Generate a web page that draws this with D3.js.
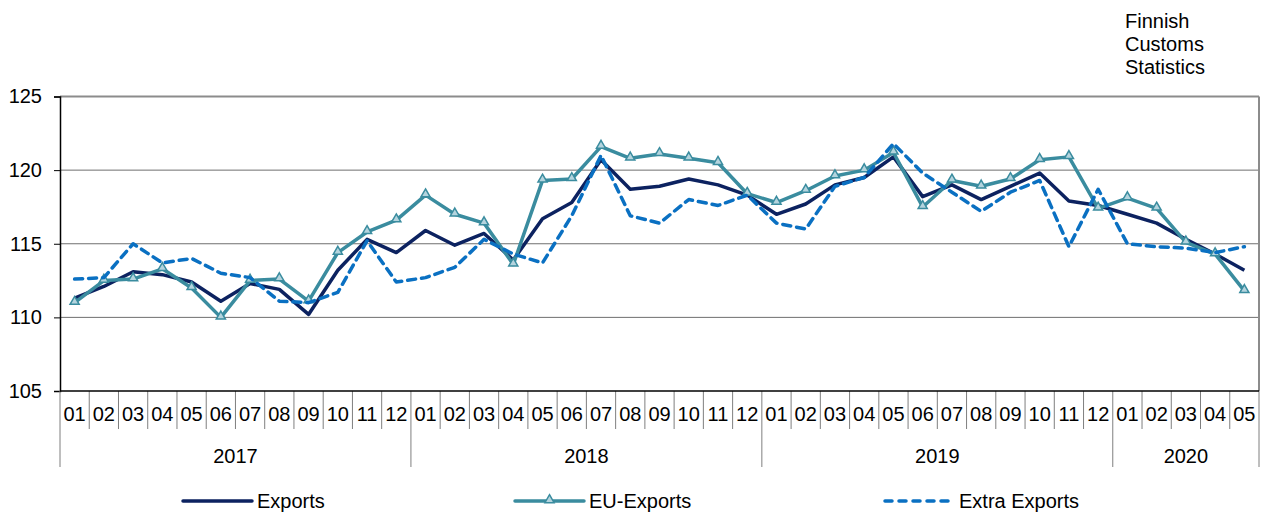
<!DOCTYPE html>
<html>
<head>
<meta charset="utf-8">
<script src="https://cdn.jsdelivr.net/npm/d3@7"></script>
<style>
  body { margin: 0; background: #fff; }
  text { font-family: Arial, "Liberation Sans", sans-serif; fill: #000; }
</style>
</head>
<body>
<svg id="chart" width="1262" height="513"></svg>
<script>
const svg = d3.select("#chart");

// 2017-01 .. 2020-05
const years = ["2017", "2018", "2019", "2020"];
const monthsPerYear = [12, 12, 12, 5];
const months = [];
years.forEach((y, i) => {
  for (let m = 1; m <= monthsPerYear[i]; m++) months.push(`${y}-${String(m).padStart(2, "0")}`);
});

const totalExports = [
  111.3, 112.1, 113.1, 112.9, 112.4, 111.1, 112.3, 111.9, 110.2, 113.2, 115.3, 114.4,
  115.9, 114.9, 115.7, 113.9, 116.7, 117.8, 120.7, 118.7, 118.9, 119.4, 119.0, 118.3,
  117.0, 117.7, 119.0, 119.5, 120.9, 118.2, 119.0, 118.0, 118.9, 119.8, 117.9, 117.6,
  117.0, 116.4, 115.3, 114.3, 113.2
];
const euExports = [
  111.0, 112.5, 112.6, 113.3, 112.0, 110.0, 112.5, 112.6, 111.1, 114.4, 115.8, 116.6,
  118.3, 117.0, 116.4, 113.6, 119.3, 119.4, 121.6, 120.8, 121.1, 120.8, 120.5, 118.4,
  117.8, 118.6, 119.6, 120.0, 121.2, 117.5, 119.3, 118.9, 119.4, 120.7, 120.9, 117.4,
  118.1, 117.4, 115.1, 114.3, 111.8
];
const extraExports = [
  112.6, 112.7, 115.0, 113.7, 114.0, 113.0, 112.7, 111.1, 111.0, 111.7, 115.2, 112.4,
  112.7, 113.4, 115.3, 114.3, 113.7, 116.9, 121.0, 116.9, 116.4, 118.0, 117.6, 118.3,
  116.4, 116.0, 118.9, 119.5, 121.8, 119.8, 118.5, 117.2, 118.5, 119.3, 114.8, 118.7,
  115.0, 114.8, 114.7, 114.4, 114.8
];
const yTicks = [105, 110, 115, 120, 125];

const series = [
  { name: "Exports", values: totalExports, color: "#0c2260", dash: null, marker: false },
  { name: "EU-Exports", values: euExports, color: "#3a8c9f", dash: null, marker: true },
  { name: "Extra Exports", values: extraExports, color: "#0a70c2", dash: "8,6", marker: false }
];

const plotLeft = 60, plotRight = 1259, plotTop = 96.5, plotBottom = 391;
const fs = "20px";

const x = d3.scaleBand().domain(months).range([plotLeft, plotRight]);
const y = d3.scaleLinear().domain([105, 125]).range([plotBottom, plotTop]);

// gridlines
svg.append("g")
  .selectAll("line")
  .data(yTicks.slice(1))
  .join("line")
  .attr("x1", plotLeft).attr("x2", plotRight)
  .attr("y1", d => y(d)).attr("y2", d => y(d))
  .attr("stroke", d => d === 125 ? "#8c8c8c" : "#6f6f6f")
  .attr("stroke-width", d => d === 125 ? 2 : 1);

// right border
svg.append("line")
  .attr("x1", plotRight).attr("x2", plotRight).attr("y1", plotTop).attr("y2", plotBottom)
  .attr("stroke", "#8c8c8c").attr("stroke-width", 2);

// y axis
const yAxis = svg.append("g").attr("transform", `translate(${plotLeft},0)`)
  .call(d3.axisLeft(y).tickValues(yTicks).tickSize(6).tickPadding(12));
yAxis.select(".domain").attr("stroke", "#000").attr("stroke-width", 1.5);
yAxis.selectAll(".tick line").attr("stroke", "#000");
yAxis.selectAll(".tick text").style("font-size", fs).attr("fill", "#000")
  .style("font-family", "Arial, 'Liberation Sans', sans-serif");

// x axis: month labels and separators
const xg = svg.append("g");
xg.selectAll("line.sep")
  .data(months)
  .join("line")
  .attr("class", "sep")
  .attr("x1", d => x(d)).attr("x2", d => x(d))
  .attr("y1", plotBottom)
  .attr("y2", d => d.endsWith("-01") ? 467 : 429)
  .attr("stroke", "#7f7f7f").attr("stroke-width", 1);
xg.append("line")
  .attr("x1", plotRight).attr("x2", plotRight).attr("y1", plotBottom).attr("y2", 467)
  .attr("stroke", "#7f7f7f");
xg.selectAll("text.month")
  .data(months)
  .join("text")
  .attr("class", "month")
  .attr("x", d => x(d) + x.bandwidth() / 2)
  .attr("y", 421)
  .attr("text-anchor", "middle")
  .style("font-size", fs)
  .text(d => d.slice(5));

let start = 0;
years.forEach((yr, i) => {
  const first = months[start], last = months[start + monthsPerYear[i] - 1];
  const cx = (x(first) + x(last) + x.bandwidth()) / 2;
  xg.append("text")
    .attr("x", cx).attr("y", 463)
    .attr("text-anchor", "middle")
    .style("font-size", fs)
    .text(yr);
  start += monthsPerYear[i];
});

// bottom axis line
svg.append("line")
  .attr("x1", plotLeft).attr("x2", plotRight).attr("y1", plotBottom).attr("y2", plotBottom)
  .attr("stroke", "#000").attr("stroke-width", 1.5);

// lines
const line = d3.line()
  .x((d, i) => x(months[i]) + x.bandwidth() / 2)
  .y(d => y(d));

const triangle = d3.symbol().type(d3.symbolTriangle).size(36);

series.forEach(s => {
  svg.append("path")
    .datum(s.values)
    .attr("d", line)
    .attr("fill", "none")
    .attr("stroke", s.color)
    .attr("stroke-width", 3.5)
    .attr("stroke-linejoin", "round")
    .attr("stroke-linecap", s.dash ? "round" : "butt")
    .attr("stroke-dasharray", s.dash);
  if (s.marker) {
    svg.append("g")
      .selectAll("path")
      .data(s.values)
      .join("path")
      .attr("d", triangle)
      .attr("transform", (d, i) => `translate(${x(months[i]) + x.bandwidth() / 2},${y(d) - 1})`)
      .attr("fill", "#b4d4de")
      .attr("stroke", s.color)
      .attr("stroke-width", 1.5);
  }
});

// legend
const legendPos = [183, 515, 885];
series.forEach((s, i) => {
  const g = svg.append("g").attr("transform", `translate(${legendPos[i]},501)`);
  g.append("line")
    .attr("x1", 0).attr("x2", 69)
    .attr("stroke", s.color).attr("stroke-width", 3.5)
    .attr("stroke-linecap", "round")
    .attr("stroke-dasharray", s.dash ? "7,7" : null);
  if (s.marker) {
    g.append("path").attr("d", triangle).attr("transform", "translate(34.5,-1)")
      .attr("fill", "#b4d4de").attr("stroke", s.color).attr("stroke-width", 1.5);
  }
  g.append("text")
    .attr("x", 74).attr("y", 7)
    .style("font-size", fs)
    .text(s.name);
});

// source note
const note = svg.append("text").attr("x", 1125).attr("y", 28).style("font-size", fs);
["Finnish", "Customs", "Statistics"].forEach((t, i) => {
  note.append("tspan").attr("x", 1125).attr("dy", i === 0 ? 0 : 23).text(t);
});
</script>
</body>
</html>
